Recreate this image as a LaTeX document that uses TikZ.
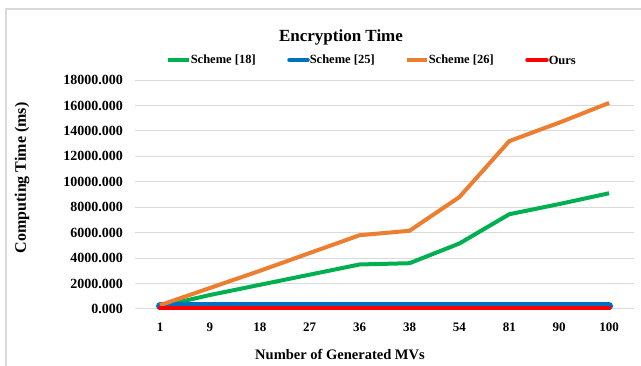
\documentclass[tikz,border=0pt]{standalone}
\usepackage{fontspec}
\setmainfont{Liberation Serif}

\definecolor{gridgray}{HTML}{D9D9D9}
\definecolor{schemegreen}{HTML}{00B050}
\definecolor{schemeblue}{HTML}{0070C0}
\definecolor{schemeorange}{HTML}{ED7D31}
\definecolor{oursred}{HTML}{FF0000}

\begin{document}
\begin{tikzpicture}[
    x=1pt, y=-1pt,
    grid/.style={draw=gridgray, line width=1pt},
    series/.style={line width=4pt, line join=round},
    legline/.style={line width=3.5pt},
    legtext/.style={anchor=west, inner sep=0pt, text=black, font=\bfseries\fontsize{12.5}{14}\selectfont},
    ylab/.style={anchor=east, inner sep=0pt, font=\bfseries\fontsize{14}{16}\selectfont},
    xlab/.style={inner sep=0pt, font=\bfseries\fontsize{13}{15}\selectfont},
    axtitle/.style={inner sep=0pt, font=\bfseries\fontsize{14.5}{17}\selectfont}
]
\useasboundingbox (0,0) rectangle (641,366);

% Chart frame
\draw[gridgray, line width=1.5pt] (6,366) -- (6,9) -- (641,9);

% Title
\node[inner sep=0pt, font=\bfseries\fontsize{17}{20}\selectfont] (title) at (341,37) {Encryption Time};

% Legend
\draw[legline, schemegreen] (168,60) -- (189,60) node[legtext] (leg18) {Scheme [18]};
\draw[legline, schemeblue, line cap=round] (289,60) -- (308,60) node[legtext] (leg25) {Scheme [25]};
\draw[legline, schemeorange] (407,60) -- (427,60) node[legtext] (leg26) {Scheme [26]};
\draw[legline, oursred, line cap=round] (527,60) -- (547,60) node[legtext] (legours) {Ours};

% Axis titles
\node[axtitle, rotate=90, font=\bfseries\fontsize{16}{18}\selectfont] (ytitle) at (22,178) {Computing Time (ms)};
\node[axtitle] (xtitle) at (340,355) {Number of Generated MVs};

% Plot area: categories along x, values (in thousands of ms) along y
\begin{scope}[shift={(110.1,309)}, x=49.9pt, y=12.72pt]

% Gridlines and value labels
\foreach \v in {0,2,...,18} {
    \draw[grid] (0.5,\v) -- (10.5,\v);
    \node[ylab] (ylab\v) at (0.5,\v) [xshift=-12pt] {\ifnum\v=0 0.000\else\v000.000\fi};
}

% Category labels
\foreach \lab [count=\i] in {1,9,18,27,36,38,54,81,90,100}
    \node[xlab] (xlab\i) at (\i,0) [yshift=-18pt] {\lab};

% Series
\draw[series, schemegreen] plot coordinates {(1,0.2) (2,1.1) (3,1.9) (4,2.7) (5,3.5)
    (6,3.6) (7,5.15) (8,7.45) (9,8.25) (10,9.1)};
\draw[series, line width=8pt, line cap=round, schemeblue] plot coordinates {(1,0.24) (2,0.24)
    (3,0.24) (4,0.24) (5,0.24) (6,0.24) (7,0.24) (8,0.24) (9,0.24) (10,0.24)};
\draw[series, schemeorange] plot coordinates {(1,0.3) (2,1.65) (3,3.0) (4,4.4) (5,5.8)
    (6,6.15) (7,8.8) (8,13.2) (9,14.65) (10,16.2)};
\draw[series, line width=4.5pt, line cap=round, oursred] plot coordinates {(1,0.08) (2,0.08)
    (3,0.08) (4,0.08) (5,0.08) (6,0.08) (7,0.08) (8,0.08) (9,0.08) (10,0.08)};

\end{scope}

\end{tikzpicture}
\end{document}
